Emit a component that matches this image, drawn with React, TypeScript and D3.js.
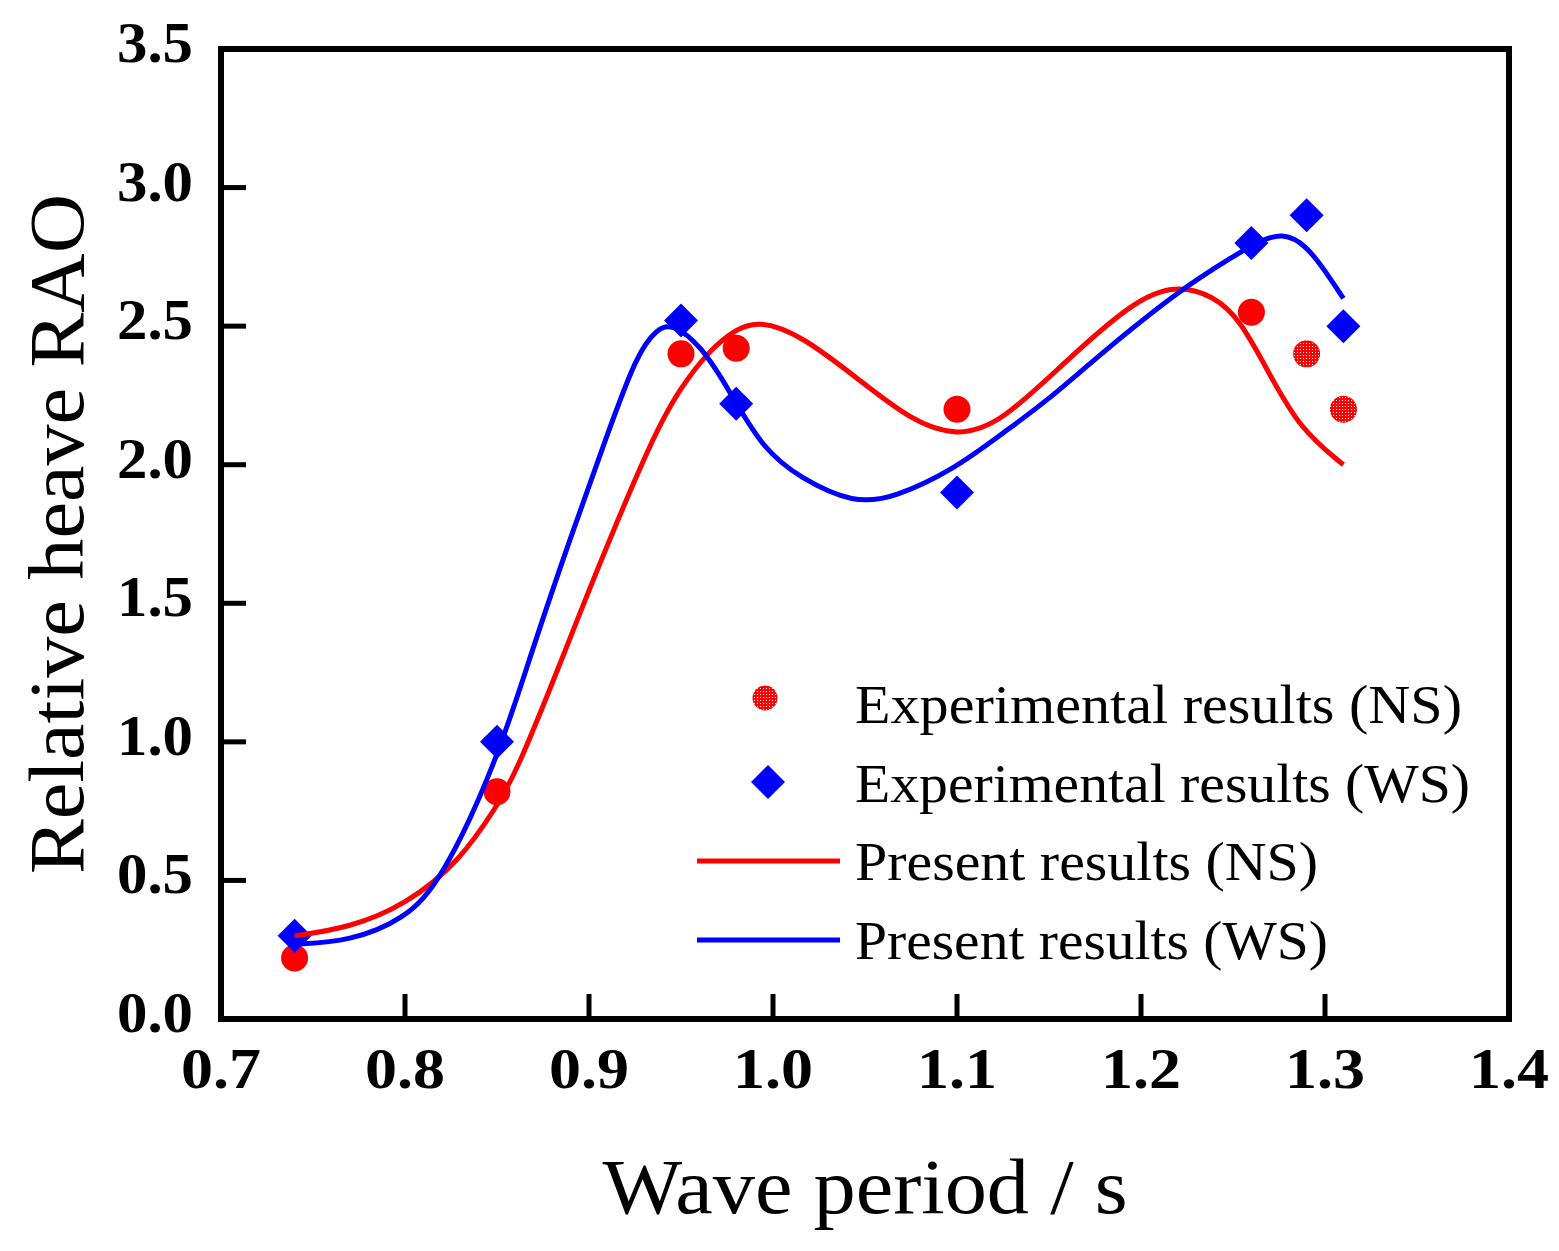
import * as d3 from "d3";

// experimental points
const expPeriods = [0.74, 0.85, 0.95, 0.98, 1.1, 1.26, 1.29, 1.31];
const expNS = [0.22, 0.82, 2.4, 2.42, 2.2, 2.55, 2.4, 2.2];
const stippledNS = [false, false, false, false, false, false, true, true];
const expWS = [0.3, 1.0, 2.52, 2.22, 1.9, 2.8, 2.9, 2.5];

// present results (NS)
const nsPeriods = [0.74, 0.77, 0.8, 0.83, 0.85, 0.86, 0.889, 0.9, 0.935, 0.95, 0.965, 0.98, 0.992, 1.015, 1.048, 1.075, 1.1, 1.124, 1.16, 1.196, 1.218, 1.24, 1.254, 1.268, 1.286, 1.31];
const nsValues = [0.3, 0.33, 0.41, 0.57, 0.77, 0.88, 1.36, 1.55, 2.11, 2.28, 2.41, 2.49, 2.52, 2.47, 2.3, 2.16, 2.1, 2.15, 2.38, 2.59, 2.65, 2.61, 2.52, 2.35, 2.13, 2.0];

// present results (WS)
const wsPeriods = [0.74, 0.77, 0.8, 0.82, 0.85, 0.869, 0.889, 0.91, 0.926, 0.937, 0.945, 0.961, 0.976, 0.994, 1.015, 1.044, 1.066, 1.1, 1.124, 1.149, 1.178, 1.223, 1.25, 1.262, 1.277, 1.29, 1.3, 1.31];
const wsValues = [0.27, 0.28, 0.36, 0.5, 0.93, 1.33, 1.72, 2.11, 2.4, 2.49, 2.51, 2.43, 2.27, 2.06, 1.95, 1.86, 1.88, 1.99, 2.11, 2.23, 2.4, 2.64, 2.75, 2.8, 2.84, 2.79, 2.7, 2.6];

const xTicks = [0.7, 0.8, 0.9, 1.0, 1.1, 1.2, 1.3, 1.4];
const yTicks = [0, 0.5, 1.0, 1.5, 2.0, 2.5, 3.0, 3.5];

const legendLabels = [
  "Experimental results (NS)",
  "Experimental results (WS)",
  "Present results (NS)",
  "Present results (WS)",
];
const legendWidths = [607, 615, 463, 473];

const W = 1559;
const H = 1251;
const left = 221;
const right = 1509;
const top = 49;
const bottom = 1019;
const serif = "'Liberation Serif', 'DejaVu Serif', serif";

export default function App() {
  const x = d3.scaleLinear().domain([0.7, 1.4]).range([left, right]);
  const y = d3.scaleLinear().domain([0, 3.5]).range([bottom, top]);

  const line = d3
    .line<[number, number]>()
    .x((d) => x(d[0]))
    .y((d) => y(d[1]))
    .curve(d3.curveBasis);

  const nsPath = line(nsPeriods.map((p, i) => [p, nsValues[i]]) as [number, number][]);
  const wsPath = line(wsPeriods.map((p, i) => [p, wsValues[i]]) as [number, number][]);

  const diamond = (cx: number, cy: number, r: number) =>
    `M${cx},${cy - r}L${cx + r},${cy}L${cx},${cy + r}L${cx - r},${cy}Z`;

  const legendX = 697;
  const legendTextX = 855;
  const legendRows = [706, 785, 863, 942];

  return (
    <svg width={W} height={H} style={{ position: "absolute", left: 0, top: 0, background: "#fff" }}>
      <defs>
        <pattern id="stipple" width="3" height="3" patternUnits="userSpaceOnUse">
          <rect width="3" height="3" fill="#ff0000" />
          <rect x="1" y="1" width="1" height="1" fill="#fff" />
        </pattern>
      </defs>

      {/* experimental markers */}
      {expPeriods.map((p, i) => (
        <circle
          key={"ns" + i}
          cx={x(p)}
          cy={y(expNS[i])}
          r={13.5}
          fill={stippledNS[i] ? "url(#stipple)" : "#ff0000"}
        />
      ))}
      {expPeriods.map((p, i) => (
        <path key={"ws" + i} d={diamond(x(p), y(expWS[i]), 17)} fill="#0000ff" />
      ))}

      {/* present results */}
      <path d={nsPath || ""} fill="none" stroke="#ff0000" strokeWidth={5} />
      <path d={wsPath || ""} fill="none" stroke="#0000ff" strokeWidth={5} />

      {/* frame */}
      <rect x={left} y={top} width={right - left} height={bottom - top} fill="none" stroke="#000" strokeWidth={6} />

      {/* ticks */}
      {xTicks.slice(1, -1).map((t) => (
        <line key={"xt" + t} x1={x(t)} x2={x(t)} y1={bottom} y2={bottom - 25} stroke="#000" strokeWidth={5} />
      ))}
      {yTicks.slice(1, -1).map((t) => (
        <line key={"yt" + t} x1={left} x2={left + 25} y1={y(t)} y2={y(t)} stroke="#000" strokeWidth={5} />
      ))}

      {/* tick labels */}
      {xTicks.map((t) => (
        <text
          key={"xl" + t}
          x={x(t)}
          y={1088}
          textAnchor="middle"
          fontFamily={serif}
          fontWeight="bold"
          fontSize={58}
          textLength={80}
          lengthAdjust="spacingAndGlyphs"
        >
          {t.toFixed(1)}
        </text>
      ))}
      {yTicks.map((t) => (
        <text
          key={"yl" + t}
          x={193}
          y={y(t) + 13}
          textAnchor="end"
          fontFamily={serif}
          fontWeight="bold"
          fontSize={58}
          textLength={76}
          lengthAdjust="spacingAndGlyphs"
        >
          {t.toFixed(1)}
        </text>
      ))}

      {/* axis titles */}
      <text
        x={(left + right) / 2}
        y={1213}
        textAnchor="middle"
        fontFamily={serif}
        fontSize={78}
        textLength={525}
        lengthAdjust="spacingAndGlyphs"
      >
        Wave period / s
      </text>
      <text
        transform={`translate(83, ${(top + bottom) / 2}) rotate(-90)`}
        textAnchor="middle"
        fontFamily={serif}
        fontSize={78}
        textLength={680}
        lengthAdjust="spacingAndGlyphs"
      >
        Relative heave RAO
      </text>

      {/* legend */}
      <circle cx={765} cy={legendRows[0] - 8} r={12.5} fill="url(#stipple)" />
      <path d={diamond(768, legendRows[1] - 3, 17)} fill="#0000ff" />
      <line x1={legendX} x2={840} y1={legendRows[2] - 2} y2={legendRows[2] - 2} stroke="#ff0000" strokeWidth={5} />
      <line x1={legendX} x2={840} y1={legendRows[3] - 2} y2={legendRows[3] - 2} stroke="#0000ff" strokeWidth={5} />
      {legendLabels.map((label, i) => (
        <text
          key={label}
          x={legendTextX}
          y={legendRows[i] + 17}
          fontFamily={serif}
          fontSize={54}
          textLength={legendWidths[i]}
          lengthAdjust="spacingAndGlyphs"
        >
          {label}
        </text>
      ))}
    </svg>
  );
}
